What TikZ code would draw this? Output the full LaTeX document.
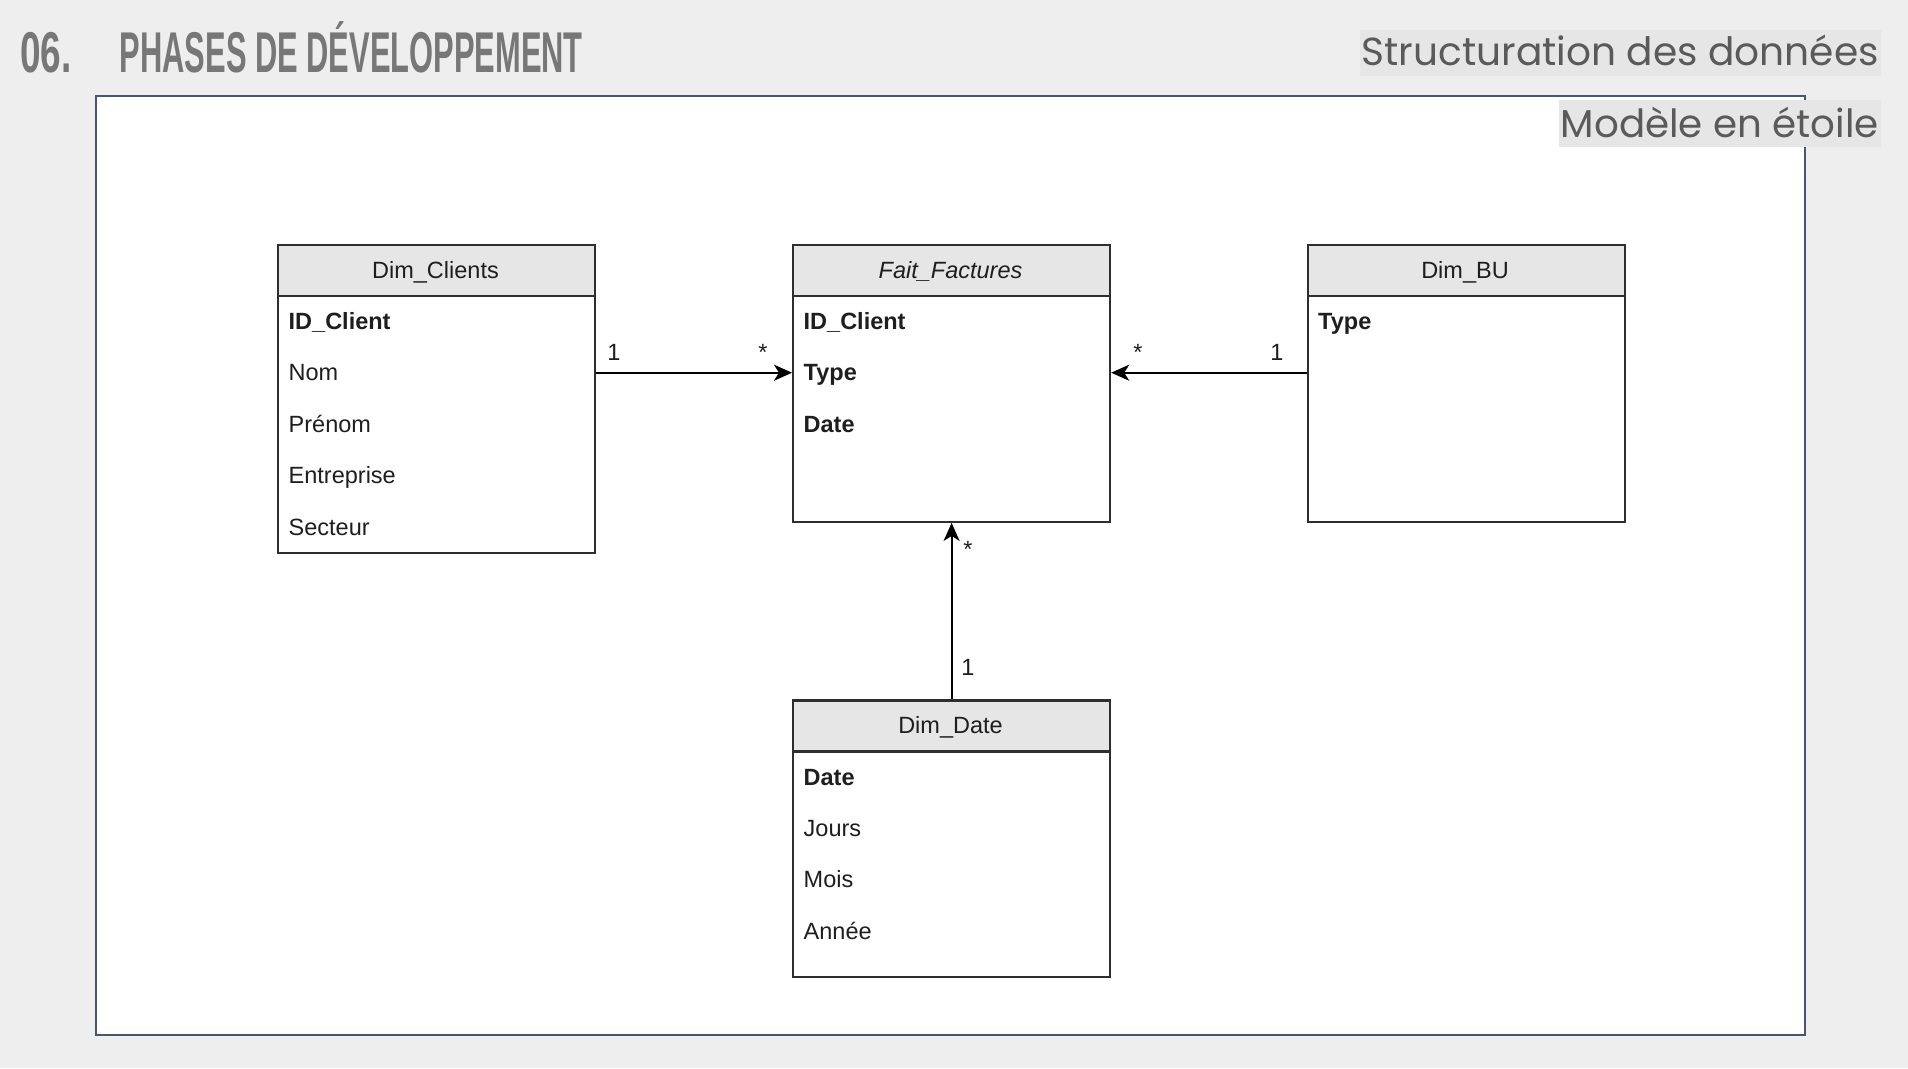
\documentclass[tikz,border=0pt]{standalone}
\usepackage{fontspec}
\usepackage{graphicx}
\setmainfont{Liberation Sans}
\newfontfamily\popfont{Poppins}
\usetikzlibrary{arrows.meta}
\definecolor{bgc}{HTML}{EEEEEE}
\definecolor{framec}{HTML}{4A5670}
\definecolor{boxc}{HTML}{2E2E2E}
\definecolor{hdrc}{HTML}{E6E6E6}
\definecolor{txtc}{HTML}{1E1E1E}
\definecolor{titlec}{HTML}{777777}
\definecolor{subc}{HTML}{5A5A5A}
\definecolor{subbg}{HTML}{E6E6E6}
\tikzset{
  tbl/.style={draw=boxc, line width=2.2pt, fill=white, minimum width=317pt, inner sep=0pt, anchor=north west},
  hdr/.style={draw=boxc, line width=2.2pt, fill=hdrc, minimum width=317pt, minimum height=51pt, inner sep=0pt, anchor=north west},
  htxt/.style={anchor=base, inner sep=0pt, text=txtc, font=\fontsize{23.5}{23.5}\selectfont},
  attr/.style={anchor=base west, inner sep=0pt, text=txtc, font=\fontsize{23.5}{23.5}\selectfont},
  mult/.style={anchor=base, inner sep=0pt, text=txtc, font=\fontsize{23.5}{23.5}\selectfont},
  conn/.style={draw=black, line width=2pt, -{Stealth[length=18pt,width=16pt,inset=5pt]}},
  subtitle/.style={fill=subbg, inner xsep=2pt, inner ysep=0pt, anchor=north east, text=subc}
}
\begin{document}
\begin{tikzpicture}[x=1pt,y=-1pt]
\useasboundingbox (0,0) rectangle (1908,1068);
\fill[bgc] (0,0) rectangle (1908,1068);

% title
\node[anchor=base west, inner sep=0pt, text=titlec] (num) at (20,72.7)
  {\resizebox{51.4pt}{\height}{\fontsize{57.5}{57.5}\selectfont\bfseries 06.}};
\node[anchor=base west, inner sep=0pt, text=titlec] (title) at (119.6,72.7)
  {\resizebox{463pt}{\height}{\fontsize{57.5}{57.5}\selectfont\bfseries PHASES DE DÉVELOPPEMENT}};

% frame
\draw[framec, line width=2pt, fill=white] (96,96) rectangle (1804.5,1035);

% subtitles
\node[subtitle, text height=36.4pt, text depth=10.3pt] (sub1) at (1881,29.3)
  {\resizebox{517pt}{!}{\fontsize{40}{40}\selectfont\popfont Structuration des données}};
\node[subtitle, text height=37.3pt, text depth=9.4pt] (sub2) at (1881,100)
  {\resizebox{318pt}{!}{\fontsize{40}{40}\selectfont\popfont Modèle en étoile}};

% Dim_Clients
\node[tbl, minimum height=308pt] (clients) at (277,244) {};
\node[hdr] (clientsh) at (277,244) {};
\node[htxt] (clientst) at (435.5,278) {Dim\_Clients};
\node[attr] (c1) at (288.5,329.4) {\textbf{ID\_Client}};
\node[attr] (c2) at (288.5,380.8) {Nom};
\node[attr] (c3) at (288.5,432.2) {Prénom};
\node[attr] (c4) at (288.5,483.6) {Entreprise};
\node[attr] (c5) at (288.5,535.0) {Secteur};

% Fait_Factures
\node[tbl, minimum height=276.7pt] (fait) at (792,244) {};
\node[hdr] (faith) at (792,244) {};
\node[htxt] (faitt) at (950.5,278) {\itshape Fait\_Factures};
\node[attr] (f1) at (803.5,329.4) {\textbf{ID\_Client}};
\node[attr] (f2) at (803.5,380.8) {\textbf{Type}};
\node[attr] (f3) at (803.5,432.2) {\textbf{Date}};

% Dim_BU
\node[tbl, minimum height=276.7pt] (bu) at (1306.5,244) {};
\node[hdr] (buh) at (1306.5,244) {};
\node[htxt] (but) at (1465,278) {Dim\_BU};
\node[attr] (b1) at (1318,329.4) {\textbf{Type}};

% Dim_Date
\node[tbl, minimum height=276.5pt] (date) at (792,699.3) {};
\node[hdr] (dateh) at (792,699.3) {};
\node[htxt] (datet) at (950.5,733.3) {Dim\_Date};
\node[attr] (d1) at (803.5,785.1) {\textbf{Date}};
\node[attr] (d2) at (803.5,836.5) {Jours};
\node[attr] (d3) at (803.5,887.9) {Mois};
\node[attr] (d4) at (803.5,939.3) {Année};

% connectors
\coordinate (rowy) at (0,372.7);
\draw[conn] (clients.east |- rowy) -- (fait.west |- rowy);
\draw[conn] (bu.west |- rowy) -- (fait.east |- rowy);
\draw[conn] (date.north) -- (fait.south);

% multiplicities
\node[mult] (m1) at (614,360) {1};
\node[mult] (m2) at (763,360) {*};
\node[mult] (m3) at (1138,360) {*};
\node[mult] (m4) at (1277,360) {1};
\node[mult] (m5) at (968,557.6) {*};
\node[mult] (m6) at (968,675.4) {1};
\end{tikzpicture}
\end{document}
